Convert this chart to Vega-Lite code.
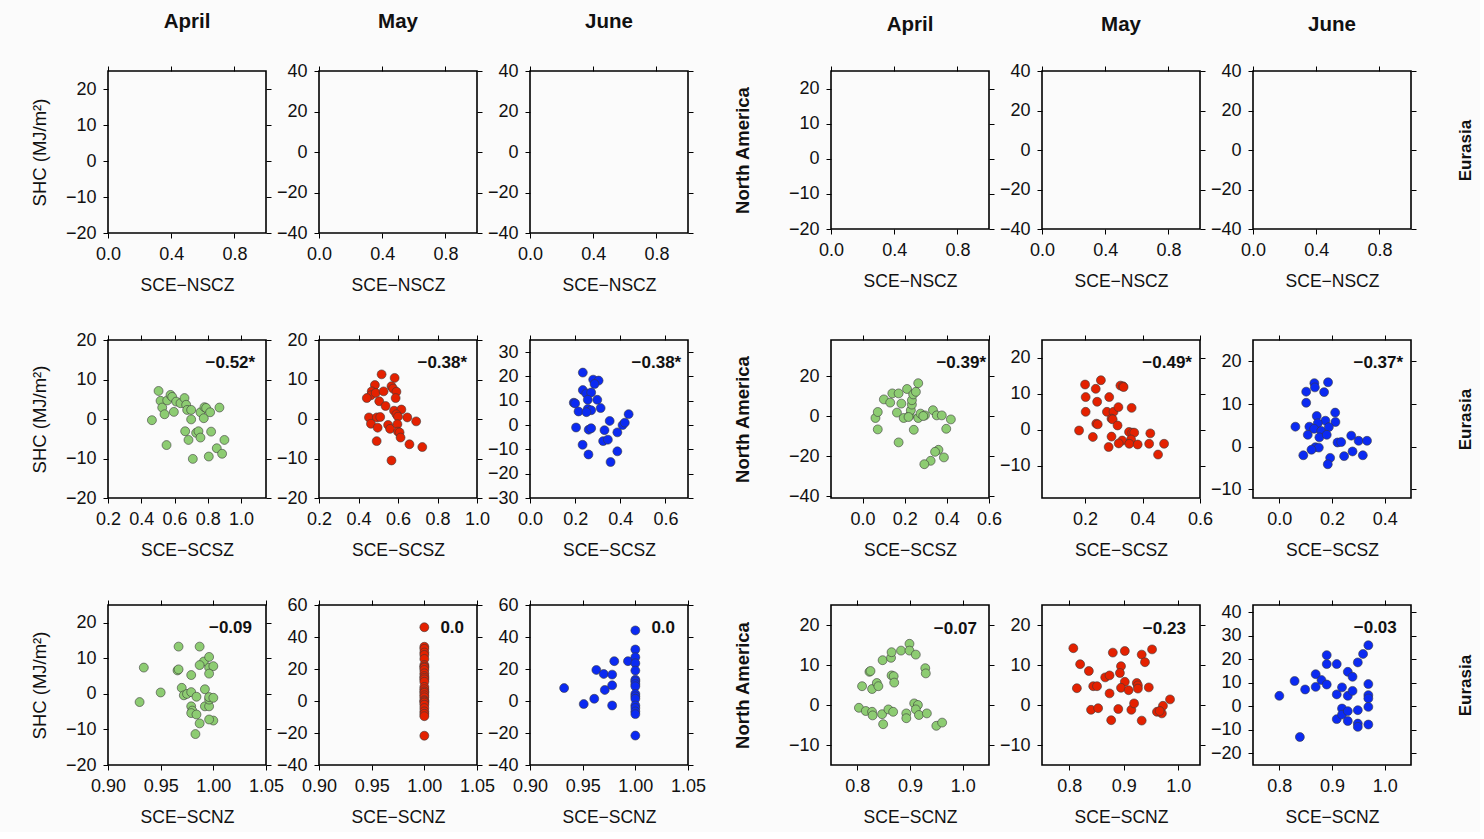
{
"$schema":"https://vega.github.io/schema/vega-lite/v6.json",
"background":"#fbfbfb",
"padding":{"left":29,"top":10,"right":5,"bottom":5},
"columns":7,
"spacing":{"row":107,"column":53},
"bounds":"flush",
"config":{
 "font":"Liberation Sans",
 "view":{"stroke":"black","strokeWidth":1.6},
 "axis":{"domain":false,"grid":false,"tickColor":"black","tickWidth":1,"tickSize":5,"labelFont":"Liberation Sans","labelFontSize":18,"labelColor":"#111","labelPadding":7,"labelFlush":false,"labelOverlap":false,"labelBound":false,"titleFont":"Liberation Sans","titleFontSize":17.5,"titleFontWeight":"normal","titleColor":"#111","titlePadding":13},
 "title":{"font":"Liberation Sans","fontSize":20.5,"fontWeight":"bold","color":"#111","frame":"group","anchor":"middle","baseline":"bottom"}
},
"datasets":{
"lab":[
{"p":"LA2","r":"−0.52*"},{"p":"LM2","r":"−0.38*"},{"p":"LJ2","r":"−0.38*"},
{"p":"LA3","r":"−0.09"},{"p":"LM3","r":"0.0"},{"p":"LJ3","r":"0.0"},
{"p":"RA2","r":"−0.39*"},{"p":"RM2","r":"−0.49*"},{"p":"RJ2","r":"−0.37*"},
{"p":"RA3","r":"−0.07"},{"p":"RM3","r":"−0.23"},{"p":"RJ3","r":"−0.03"}
],
"pts":[
{"p":"LA2","x":0.504,"y":7.1},{"p":"LA2","x":0.516,"y":4.6},{"p":"LA2","x":0.526,"y":2.9},{"p":"LA2","x":0.54,"y":1.2},{"p":"LA2","x":0.556,"y":4.7},{"p":"LA2","x":0.552,"y":-6.6},{"p":"LA2","x":0.576,"y":6.1},{"p":"LA2","x":0.586,"y":5.6},{"p":"LA2","x":0.596,"y":1.8},{"p":"LA2","x":0.61,"y":4.4},{"p":"LA2","x":0.636,"y":4.0},{"p":"LA2","x":0.66,"y":5.3},{"p":"LA2","x":0.67,"y":3.6},{"p":"LA2","x":0.676,"y":2.3},{"p":"LA2","x":0.70,"y":2.3},{"p":"LA2","x":0.70,"y":-0.1},{"p":"LA2","x":0.664,"y":-3.1},{"p":"LA2","x":0.684,"y":-5.3},{"p":"LA2","x":0.71,"y":-10.1},{"p":"LA2","x":0.73,"y":-3.5},{"p":"LA2","x":0.744,"y":-3.1},{"p":"LA2","x":0.756,"y":-4.7},{"p":"LA2","x":0.756,"y":1.7},{"p":"LA2","x":0.776,"y":0.2},{"p":"LA2","x":0.78,"y":3.0},{"p":"LA2","x":0.79,"y":2.8},{"p":"LA2","x":0.814,"y":1.7},{"p":"LA2","x":0.82,"y":-3.2},{"p":"LA2","x":0.806,"y":-9.5},{"p":"LA2","x":0.854,"y":-7.4},{"p":"LA2","x":0.87,"y":2.9},{"p":"LA2","x":0.886,"y":-8.8},{"p":"LA2","x":0.90,"y":-5.3},{"p":"LA2","x":0.464,"y":-0.3},
{"p":"LM2","x":0.517,"y":11.3},{"p":"LM2","x":0.583,"y":10.4},{"p":"LM2","x":0.483,"y":8.6},{"p":"LM2","x":0.467,"y":7.0},{"p":"LM2","x":0.463,"y":6.0},{"p":"LM2","x":0.487,"y":6.6},{"p":"LM2","x":0.442,"y":5.3},{"p":"LM2","x":0.527,"y":7.0},{"p":"LM2","x":0.567,"y":8.3},{"p":"LM2","x":0.575,"y":7.7},{"p":"LM2","x":0.592,"y":6.9},{"p":"LM2","x":0.588,"y":5.3},{"p":"LM2","x":0.505,"y":4.5},{"p":"LM2","x":0.537,"y":3.3},{"p":"LM2","x":0.58,"y":2.1},{"p":"LM2","x":0.617,"y":2.4},{"p":"LM2","x":0.592,"y":1.2},{"p":"LM2","x":0.6,"y":0.6},{"p":"LM2","x":0.647,"y":0.4},{"p":"LM2","x":0.692,"y":-0.6},{"p":"LM2","x":0.453,"y":0.4},{"p":"LM2","x":0.493,"y":0.4},{"p":"LM2","x":0.51,"y":0.5},{"p":"LM2","x":0.463,"y":-1.2},{"p":"LM2","x":0.497,"y":-2.2},{"p":"LM2","x":0.55,"y":-1.5},{"p":"LM2","x":0.56,"y":-2.5},{"p":"LM2","x":0.597,"y":-1.3},{"p":"LM2","x":0.6,"y":-3.2},{"p":"LM2","x":0.608,"y":-3.4},{"p":"LM2","x":0.613,"y":-4.7},{"p":"LM2","x":0.492,"y":-5.6},{"p":"LM2","x":0.658,"y":-6.4},{"p":"LM2","x":0.723,"y":-7.1},{"p":"LM2","x":0.567,"y":-10.5},
{"p":"LJ2","x":0.234,"y":21.6},{"p":"LJ2","x":0.28,"y":18.7},{"p":"LJ2","x":0.304,"y":18.3},{"p":"LJ2","x":0.286,"y":16.9},{"p":"LJ2","x":0.234,"y":14.4},{"p":"LJ2","x":0.249,"y":13.0},{"p":"LJ2","x":0.271,"y":13.4},{"p":"LJ2","x":0.194,"y":9.2},{"p":"LJ2","x":0.2,"y":8.9},{"p":"LJ2","x":0.256,"y":10.4},{"p":"LJ2","x":0.298,"y":10.4},{"p":"LJ2","x":0.215,"y":5.6},{"p":"LJ2","x":0.256,"y":6.6},{"p":"LJ2","x":0.271,"y":6.1},{"p":"LJ2","x":0.313,"y":7.0},{"p":"LJ2","x":0.25,"y":5.3},{"p":"LJ2","x":0.437,"y":4.5},{"p":"LJ2","x":0.204,"y":-1.0},{"p":"LJ2","x":0.26,"y":-1.9},{"p":"LJ2","x":0.271,"y":-1.3},{"p":"LJ2","x":0.353,"y":1.7},{"p":"LJ2","x":0.33,"y":-2.1},{"p":"LJ2","x":0.324,"y":-6.6},{"p":"LJ2","x":0.345,"y":-6.0},{"p":"LJ2","x":0.387,"y":-3.0},{"p":"LJ2","x":0.41,"y":0.0},{"p":"LJ2","x":0.42,"y":1.0},{"p":"LJ2","x":0.233,"y":-8.1},{"p":"LJ2","x":0.387,"y":-10.8},{"p":"LJ2","x":0.259,"y":-12.1},{"p":"LJ2","x":0.357,"y":-15.2},
{"p":"LA3","x":0.93,"y":-2.3},{"p":"LA3","x":0.934,"y":7.4},{"p":"LA3","x":0.95,"y":0.4},{"p":"LA3","x":0.967,"y":13.3},{"p":"LA3","x":0.987,"y":13.3},{"p":"LA3","x":0.966,"y":6.6},{"p":"LA3","x":0.967,"y":6.9},{"p":"LA3","x":0.979,"y":5.3},{"p":"LA3","x":0.97,"y":1.7},{"p":"LA3","x":0.972,"y":-0.4},{"p":"LA3","x":0.975,"y":0.0},{"p":"LA3","x":0.979,"y":0.5},{"p":"LA3","x":0.984,"y":-0.8},{"p":"LA3","x":0.991,"y":9.1},{"p":"LA3","x":0.987,"y":8.1},{"p":"LA3","x":0.996,"y":10.4},{"p":"LA3","x":0.996,"y":7.4},{"p":"LA3","x":1.0,"y":7.8},{"p":"LA3","x":0.996,"y":5.7},{"p":"LA3","x":0.992,"y":1.3},{"p":"LA3","x":0.979,"y":-3.5},{"p":"LA3","x":0.98,"y":-4.7},{"p":"LA3","x":0.979,"y":-5.4},{"p":"LA3","x":0.984,"y":-5.8},{"p":"LA3","x":0.992,"y":-3.5},{"p":"LA3","x":0.996,"y":-3.5},{"p":"LA3","x":0.996,"y":-1.6},{"p":"LA3","x":0.996,"y":-0.9},{"p":"LA3","x":1.0,"y":-1.1},{"p":"LA3","x":1.0,"y":-7.5},{"p":"LA3","x":0.996,"y":-7.2},{"p":"LA3","x":0.987,"y":-8.3},{"p":"LA3","x":0.983,"y":-11.3},
{"p":"LM3","x":1.0,"y":46.1},{"p":"LM3","x":1.0,"y":33.9},{"p":"LM3","x":1.0,"y":32.6},{"p":"LM3","x":1.0,"y":30.3},{"p":"LM3","x":1.0,"y":28.8},{"p":"LM3","x":1.0,"y":26.3},{"p":"LM3","x":1.0,"y":22.5},{"p":"LM3","x":1.0,"y":21.5},{"p":"LM3","x":1.0,"y":20.8},{"p":"LM3","x":1.0,"y":19.4},{"p":"LM3","x":1.0,"y":17.3},{"p":"LM3","x":1.0,"y":15.6},{"p":"LM3","x":1.0,"y":14.5},{"p":"LM3","x":1.0,"y":13.5},{"p":"LM3","x":1.0,"y":12.0},{"p":"LM3","x":1.0,"y":8.8},{"p":"LM3","x":1.0,"y":7.4},{"p":"LM3","x":1.0,"y":6.0},{"p":"LM3","x":1.0,"y":5.1},{"p":"LM3","x":1.0,"y":3.6},{"p":"LM3","x":1.0,"y":2.3},{"p":"LM3","x":1.0,"y":0.5},{"p":"LM3","x":1.0,"y":-0.2},{"p":"LM3","x":1.0,"y":-1.0},{"p":"LM3","x":1.0,"y":-2.3},{"p":"LM3","x":1.0,"y":-4.4},{"p":"LM3","x":1.0,"y":-6.5},{"p":"LM3","x":1.0,"y":-8.0},{"p":"LM3","x":1.0,"y":-9.5},{"p":"LM3","x":1.0,"y":-21.7},
{"p":"LJ3","x":0.9324,"y":8.1},{"p":"LJ3","x":0.951,"y":-1.9},{"p":"LJ3","x":0.961,"y":1.4},{"p":"LJ3","x":0.963,"y":19.4},{"p":"LJ3","x":0.97,"y":16.9},{"p":"LJ3","x":0.971,"y":6.9},{"p":"LJ3","x":0.978,"y":16.5},{"p":"LJ3","x":0.978,"y":9.8},{"p":"LJ3","x":0.978,"y":-2.8},{"p":"LJ3","x":0.98,"y":24.9},{"p":"LJ3","x":0.993,"y":24.9},{"p":"LJ3","x":1.0,"y":44.1},{"p":"LJ3","x":1.0,"y":32.2},{"p":"LJ3","x":1.0,"y":27.4},{"p":"LJ3","x":1.0,"y":23.6},{"p":"LJ3","x":1.0,"y":19.0},{"p":"LJ3","x":1.0,"y":13.3},{"p":"LJ3","x":1.0,"y":12.3},{"p":"LJ3","x":1.0,"y":10.6},{"p":"LJ3","x":1.0,"y":9.2},{"p":"LJ3","x":1.0,"y":4.4},{"p":"LJ3","x":1.0,"y":2.9},{"p":"LJ3","x":1.0,"y":1.4},{"p":"LJ3","x":1.0,"y":-2.8},{"p":"LJ3","x":1.0,"y":-4.4},{"p":"LJ3","x":1.0,"y":-6.5},{"p":"LJ3","x":1.0,"y":-8.2},{"p":"LJ3","x":1.0,"y":-21.6},
{"p":"RA2","x":0.061,"y":-1.0},{"p":"RA2","x":0.072,"y":2.0},{"p":"RA2","x":0.072,"y":-6.7},{"p":"RA2","x":0.101,"y":8.3},{"p":"RA2","x":0.131,"y":6.7},{"p":"RA2","x":0.141,"y":11.3},{"p":"RA2","x":0.171,"y":11.3},{"p":"RA2","x":0.184,"y":6.2},{"p":"RA2","x":0.163,"y":1.7},{"p":"RA2","x":0.171,"y":-13.2},{"p":"RA2","x":0.195,"y":-1.0},{"p":"RA2","x":0.211,"y":13.5},{"p":"RA2","x":0.224,"y":0.3},{"p":"RA2","x":0.229,"y":2.9},{"p":"RA2","x":0.234,"y":5.7},{"p":"RA2","x":0.234,"y":7.9},{"p":"RA2","x":0.24,"y":10.8},{"p":"RA2","x":0.253,"y":12.1},{"p":"RA2","x":0.264,"y":16.4},{"p":"RA2","x":0.264,"y":-1.0},{"p":"RA2","x":0.243,"y":-6.9},{"p":"RA2","x":0.275,"y":1.2},{"p":"RA2","x":0.296,"y":0.3},{"p":"RA2","x":0.288,"y":0.0},{"p":"RA2","x":0.334,"y":2.9},{"p":"RA2","x":0.352,"y":0.3},{"p":"RA2","x":0.376,"y":0.3},{"p":"RA2","x":0.419,"y":-1.7},{"p":"RA2","x":0.397,"y":-6.4},{"p":"RA2","x":0.36,"y":-16.9},{"p":"RA2","x":0.344,"y":-17.9},{"p":"RA2","x":0.386,"y":-20.7},{"p":"RA2","x":0.323,"y":-22.4},{"p":"RA2","x":0.293,"y":-24.1},{"p":"RA2","x":0.218,"y":-0.5},
{"p":"RM2","x":0.2,"y":12.6},{"p":"RM2","x":0.255,"y":13.8},{"p":"RM2","x":0.237,"y":11.4},{"p":"RM2","x":0.202,"y":9.1},{"p":"RM2","x":0.242,"y":7.8},{"p":"RM2","x":0.284,"y":9.1},{"p":"RM2","x":0.323,"y":12.3},{"p":"RM2","x":0.332,"y":12.1},{"p":"RM2","x":0.334,"y":11.9},{"p":"RM2","x":0.202,"y":5.0},{"p":"RM2","x":0.276,"y":5.0},{"p":"RM2","x":0.299,"y":5.0},{"p":"RM2","x":0.316,"y":6.3},{"p":"RM2","x":0.362,"y":6.1},{"p":"RM2","x":0.292,"y":3.1},{"p":"RM2","x":0.296,"y":2.9},{"p":"RM2","x":0.239,"y":1.7},{"p":"RM2","x":0.244,"y":1.5},{"p":"RM2","x":0.313,"y":1.2},{"p":"RM2","x":0.179,"y":-0.2},{"p":"RM2","x":0.227,"y":-2.0},{"p":"RM2","x":0.292,"y":-1.9},{"p":"RM2","x":0.329,"y":-3.0},{"p":"RM2","x":0.317,"y":-3.8},{"p":"RM2","x":0.353,"y":-0.6},{"p":"RM2","x":0.364,"y":-0.8},{"p":"RM2","x":0.371,"y":-0.8},{"p":"RM2","x":0.36,"y":-2.7},{"p":"RM2","x":0.354,"y":-3.9},{"p":"RM2","x":0.383,"y":-4.1},{"p":"RM2","x":0.427,"y":-1.0},{"p":"RM2","x":0.423,"y":-3.9},{"p":"RM2","x":0.475,"y":-3.9},{"p":"RM2","x":0.454,"y":-6.9},{"p":"RM2","x":0.282,"y":-4.8},
{"p":"RJ2","x":0.185,"y":15.1},{"p":"RJ2","x":0.133,"y":14.9},{"p":"RJ2","x":0.135,"y":13.9},{"p":"RJ2","x":0.102,"y":12.9},{"p":"RJ2","x":0.17,"y":12.8},{"p":"RJ2","x":0.102,"y":10.3},{"p":"RJ2","x":0.212,"y":8.0},{"p":"RJ2","x":0.142,"y":7.2},{"p":"RJ2","x":0.175,"y":6.1},{"p":"RJ2","x":0.213,"y":5.8},{"p":"RJ2","x":0.061,"y":4.7},{"p":"RJ2","x":0.114,"y":4.7},{"p":"RJ2","x":0.146,"y":5.5},{"p":"RJ2","x":0.132,"y":4.2},{"p":"RJ2","x":0.159,"y":3.7},{"p":"RJ2","x":0.188,"y":4.6},{"p":"RJ2","x":0.108,"y":2.8},{"p":"RJ2","x":0.152,"y":2.2},{"p":"RJ2","x":0.18,"y":2.8},{"p":"RJ2","x":0.273,"y":2.6},{"p":"RJ2","x":0.221,"y":1.0},{"p":"RJ2","x":0.235,"y":1.1},{"p":"RJ2","x":0.301,"y":1.4},{"p":"RJ2","x":0.333,"y":1.4},{"p":"RJ2","x":0.137,"y":-0.1},{"p":"RJ2","x":0.15,"y":-0.2},{"p":"RJ2","x":0.122,"y":-0.7},{"p":"RJ2","x":0.091,"y":-2.0},{"p":"RJ2","x":0.278,"y":-1.1},{"p":"RJ2","x":0.246,"y":-2.2},{"p":"RJ2","x":0.317,"y":-2.0},{"p":"RJ2","x":0.193,"y":-2.6},{"p":"RJ2","x":0.184,"y":-4.1},
{"p":"RA3","x":0.809,"y":4.7},{"p":"RA3","x":0.823,"y":8.3},{"p":"RA3","x":0.825,"y":8.5},{"p":"RA3","x":0.828,"y":4.0},{"p":"RA3","x":0.837,"y":5.5},{"p":"RA3","x":0.84,"y":4.7},{"p":"RA3","x":0.848,"y":11.2},{"p":"RA3","x":0.864,"y":11.8},{"p":"RA3","x":0.865,"y":13.2},{"p":"RA3","x":0.883,"y":13.6},{"p":"RA3","x":0.899,"y":15.3},{"p":"RA3","x":0.899,"y":13.6},{"p":"RA3","x":0.911,"y":12.6},{"p":"RA3","x":0.865,"y":7.4},{"p":"RA3","x":0.869,"y":7.2},{"p":"RA3","x":0.87,"y":5.6},{"p":"RA3","x":0.929,"y":9.2},{"p":"RA3","x":0.93,"y":7.9},{"p":"RA3","x":0.803,"y":-0.7},{"p":"RA3","x":0.816,"y":-1.5},{"p":"RA3","x":0.828,"y":-1.7},{"p":"RA3","x":0.829,"y":-2.6},{"p":"RA3","x":0.847,"y":-2.3},{"p":"RA3","x":0.849,"y":-4.8},{"p":"RA3","x":0.859,"y":-1.1},{"p":"RA3","x":0.868,"y":-1.7},{"p":"RA3","x":0.893,"y":-2.1},{"p":"RA3","x":0.893,"y":-3.3},{"p":"RA3","x":0.908,"y":0.4},{"p":"RA3","x":0.915,"y":0.0},{"p":"RA3","x":0.911,"y":-1.1},{"p":"RA3","x":0.917,"y":-2.5},{"p":"RA3","x":0.932,"y":-2.1},{"p":"RA3","x":0.95,"y":-5.2},{"p":"RA3","x":0.961,"y":-4.4},
{"p":"RM3","x":0.8075,"y":14.2},{"p":"RM3","x":0.82,"y":10.2},{"p":"RM3","x":0.836,"y":8.5},{"p":"RM3","x":0.814,"y":4.2},{"p":"RM3","x":0.844,"y":4.7},{"p":"RM3","x":0.851,"y":4.7},{"p":"RM3","x":0.84,"y":-1.2},{"p":"RM3","x":0.853,"y":-0.8},{"p":"RM3","x":0.866,"y":6.9},{"p":"RM3","x":0.874,"y":7.4},{"p":"RM3","x":0.88,"y":13.1},{"p":"RM3","x":0.874,"y":2.9},{"p":"RM3","x":0.877,"y":-3.8},{"p":"RM3","x":0.89,"y":-1.0},{"p":"RM3","x":0.902,"y":13.5},{"p":"RM3","x":0.895,"y":9.7},{"p":"RM3","x":0.893,"y":8.0},{"p":"RM3","x":0.902,"y":5.8},{"p":"RM3","x":0.895,"y":4.3},{"p":"RM3","x":0.909,"y":3.7},{"p":"RM3","x":0.914,"y":-1.2},{"p":"RM3","x":0.919,"y":0.4},{"p":"RM3","x":0.924,"y":5.5},{"p":"RM3","x":0.926,"y":4.9},{"p":"RM3","x":0.926,"y":4.1},{"p":"RM3","x":0.933,"y":12.6},{"p":"RM3","x":0.939,"y":10.7},{"p":"RM3","x":0.946,"y":4.4},{"p":"RM3","x":0.933,"y":-3.9},{"p":"RM3","x":0.952,"y":13.9},{"p":"RM3","x":0.961,"y":-1.7},{"p":"RM3","x":0.97,"y":-2.1},{"p":"RM3","x":0.972,"y":-0.2},{"p":"RM3","x":0.985,"y":1.4},{"p":"RM3","x":0.966,"y":-1.5},
{"p":"RJ3","x":0.8,"y":4.4},{"p":"RJ3","x":0.829,"y":10.7},{"p":"RJ3","x":0.849,"y":7.1},{"p":"RJ3","x":0.839,"y":-13.1},{"p":"RJ3","x":0.869,"y":13.6},{"p":"RJ3","x":0.869,"y":8.2},{"p":"RJ3","x":0.88,"y":11.1},{"p":"RJ3","x":0.89,"y":9.2},{"p":"RJ3","x":0.89,"y":21.7},{"p":"RJ3","x":0.89,"y":17.9},{"p":"RJ3","x":0.909,"y":17.9},{"p":"RJ3","x":0.909,"y":5.0},{"p":"RJ3","x":0.909,"y":-5.5},{"p":"RJ3","x":0.919,"y":8.0},{"p":"RJ3","x":0.919,"y":-1.0},{"p":"RJ3","x":0.919,"y":-3.6},{"p":"RJ3","x":0.93,"y":14.6},{"p":"RJ3","x":0.93,"y":4.4},{"p":"RJ3","x":0.93,"y":-2.1},{"p":"RJ3","x":0.93,"y":-6.3},{"p":"RJ3","x":0.939,"y":12.5},{"p":"RJ3","x":0.939,"y":6.5},{"p":"RJ3","x":0.949,"y":18.6},{"p":"RJ3","x":0.949,"y":-1.7},{"p":"RJ3","x":0.949,"y":-7.4},{"p":"RJ3","x":0.949,"y":-8.8},{"p":"RJ3","x":0.959,"y":22.2},{"p":"RJ3","x":0.969,"y":25.9},{"p":"RJ3","x":0.969,"y":9.4},{"p":"RJ3","x":0.969,"y":4.7},{"p":"RJ3","x":0.969,"y":3.3},{"p":"RJ3","x":0.969,"y":-0.3},{"p":"RJ3","x":0.969,"y":-7.8}
]},
"concat":[
{"width":158,"height":162,"title":{"text":"April","offset":33},"layer":[
 {"data":{"name":"pts"},"transform":[{"filter":"datum.p==='LA1'"}],"mark":{"type":"point","filled":true,"size":80,"color":"#8dcc72"},
  "encoding":{"x":{"field":"x","type":"quantitative","scale":{"domain":[0,1],"nice":false,"zero":false},"axis":{"values":[0,0.4,0.8],"format":".1f","title":"SCE−NSCZ"}},
   "y":{"field":"y","type":"quantitative","scale":{"domain":[-20,25],"nice":false,"zero":false},"axis":{"values":[-20,-10,0,10,20],"format":"d","title":"SHC (MJ/m²)","titleFontSize":18.5,"titlePadding":16}}}},
 {"data":{"name":"pts"},"transform":[{"filter":"datum.p==='LA1'"}],"mark":{"type":"point","opacity":0},
  "encoding":{"x":{"field":"x","type":"quantitative","scale":{"domain":[0,1],"nice":false,"zero":false},"axis":{"orient":"top","values":[0,0.4,0.8],"labels":false,"title":null}},
   "y":{"field":"y","type":"quantitative","scale":{"domain":[-20,25],"nice":false,"zero":false},"axis":{"orient":"right","values":[-20,-10,0,10,20],"labels":false,"title":null}}}}
 ],"resolve":{"axis":{"x":"independent","y":"independent"}}},
{"width":158,"height":162,"title":{"text":"May","offset":30},"layer":[
 {"data":{"name":"pts"},"transform":[{"filter":"datum.p==='LM1'"}],"mark":{"type":"point","filled":true,"size":80,"color":"#e42100"},
  "encoding":{"x":{"field":"x","type":"quantitative","scale":{"domain":[0,1],"nice":false,"zero":false},"axis":{"values":[0,0.4,0.8],"format":".1f","title":"SCE−NSCZ"}},
   "y":{"field":"y","type":"quantitative","scale":{"domain":[-40,40],"nice":false,"zero":false},"axis":{"values":[-40,-20,0,20,40],"format":"d","title":null}}}},
 {"data":{"name":"pts"},"transform":[{"filter":"datum.p==='LM1'"}],"mark":{"type":"point","opacity":0},
  "encoding":{"x":{"field":"x","type":"quantitative","scale":{"domain":[0,1],"nice":false,"zero":false},"axis":{"orient":"top","values":[0,0.4,0.8],"labels":false,"title":null}},
   "y":{"field":"y","type":"quantitative","scale":{"domain":[-40,40],"nice":false,"zero":false},"axis":{"orient":"right","values":[-40,-20,0,20,40],"labels":false,"title":null}}}}
 ],"resolve":{"axis":{"x":"independent","y":"independent"}}},
{"width":158,"height":162,"title":{"text":"June","offset":30},"layer":[
 {"data":{"name":"pts"},"transform":[{"filter":"datum.p==='LJ1'"}],"mark":{"type":"point","filled":true,"size":80,"color":"#0b2af2"},
  "encoding":{"x":{"field":"x","type":"quantitative","scale":{"domain":[0,1],"nice":false,"zero":false},"axis":{"values":[0,0.4,0.8],"format":".1f","title":"SCE−NSCZ"}},
   "y":{"field":"y","type":"quantitative","scale":{"domain":[-40,40],"nice":false,"zero":false},"axis":{"values":[-40,-20,0,20,40],"format":"d","title":null}}}},
 {"data":{"name":"pts"},"transform":[{"filter":"datum.p==='LJ1'"}],"mark":{"type":"point","opacity":0},
  "encoding":{"x":{"field":"x","type":"quantitative","scale":{"domain":[0,1],"nice":false,"zero":false},"axis":{"orient":"top","values":[0,0.4,0.8],"labels":false,"title":null}},
   "y":{"field":"y","type":"quantitative","scale":{"domain":[-40,40],"nice":false,"zero":false},"axis":{"orient":"right","values":[-40,-20,0,20,40],"labels":false,"title":null}}}}
 ],"resolve":{"axis":{"x":"independent","y":"independent"}}},
{"width":37,"height":20,"data":{"values":[{"a":1}]},"mark":{"type":"text","text":""},"encoding":{},"view":{"stroke":null}},
{"width":158,"height":158,"title":{"text":"April","offset":30},"layer":[
 {"data":{"name":"pts"},"transform":[{"filter":"datum.p==='RA1'"}],"mark":{"type":"point","filled":true,"size":80,"color":"#8dcc72"},
  "encoding":{"x":{"field":"x","type":"quantitative","scale":{"domain":[0,1],"nice":false,"zero":false},"axis":{"values":[0,0.4,0.8],"format":".1f","title":"SCE−NSCZ"}},
   "y":{"field":"y","type":"quantitative","scale":{"domain":[-20,25],"nice":false,"zero":false},"axis":{"values":[-20,-10,0,10,20],"format":"d","title":"North America","titleFontWeight":"bold","titleFontSize":18.5,"titlePadding":36}}}},
 {"data":{"name":"pts"},"transform":[{"filter":"datum.p==='RA1'"}],"mark":{"type":"point","opacity":0},
  "encoding":{"x":{"field":"x","type":"quantitative","scale":{"domain":[0,1],"nice":false,"zero":false},"axis":{"orient":"top","values":[0,0.4,0.8],"labels":false,"title":null}},
   "y":{"field":"y","type":"quantitative","scale":{"domain":[-20,25],"nice":false,"zero":false},"axis":{"orient":"right","values":[-20,-10,0,10,20],"labels":false,"title":null}}}}
 ],"resolve":{"axis":{"x":"independent","y":"independent"}}},
{"width":158,"height":158,"title":{"text":"May","offset":27},"layer":[
 {"data":{"name":"pts"},"transform":[{"filter":"datum.p==='RM1'"}],"mark":{"type":"point","filled":true,"size":80,"color":"#e42100"},
  "encoding":{"x":{"field":"x","type":"quantitative","scale":{"domain":[0,1],"nice":false,"zero":false},"axis":{"values":[0,0.4,0.8],"format":".1f","title":"SCE−NSCZ"}},
   "y":{"field":"y","type":"quantitative","scale":{"domain":[-40,40],"nice":false,"zero":false},"axis":{"values":[-40,-20,0,20,40],"format":"d","title":null}}}},
 {"data":{"name":"pts"},"transform":[{"filter":"datum.p==='RM1'"}],"mark":{"type":"point","opacity":0},
  "encoding":{"x":{"field":"x","type":"quantitative","scale":{"domain":[0,1],"nice":false,"zero":false},"axis":{"orient":"top","values":[0,0.4,0.8],"labels":false,"title":null}},
   "y":{"field":"y","type":"quantitative","scale":{"domain":[-40,40],"nice":false,"zero":false},"axis":{"orient":"right","values":[-40,-20,0,20,40],"labels":false,"title":null}}}}
 ],"resolve":{"axis":{"x":"independent","y":"independent"}}},
{"width":158,"height":158,"title":{"text":"June","offset":27},"layer":[
 {"data":{"name":"pts"},"transform":[{"filter":"datum.p==='RJ1'"}],"mark":{"type":"point","filled":true,"size":80,"color":"#0b2af2"},
  "encoding":{"x":{"field":"x","type":"quantitative","scale":{"domain":[0,1],"nice":false,"zero":false},"axis":{"values":[0,0.4,0.8],"format":".1f","title":"SCE−NSCZ"}},
   "y":{"field":"y","type":"quantitative","scale":{"domain":[-40,40],"nice":false,"zero":false},"axis":{"values":[-40,-20,0,20,40],"format":"d","title":null}}}},
 {"data":{"name":"pts"},"transform":[{"filter":"datum.p==='RJ1'"}],"mark":{"type":"point","opacity":0},
  "encoding":{"x":{"field":"x","type":"quantitative","scale":{"domain":[0,1],"nice":false,"zero":false},"axis":{"orient":"top","values":[0,0.4,0.8],"labels":false,"title":null}},
   "y":{"field":"y","type":"quantitative","scale":{"domain":[-40,40],"nice":false,"zero":false},"axis":{"orient":"right","values":[-40,-20,0,20,40],"labels":false,"title":"Eurasia","titleFontWeight":"bold","titleFontSize":17,"titleAngle":270,"titleBaseline":"top","titlePadding":41}}}}
 ],"resolve":{"axis":{"x":"independent","y":"independent"}}},

{"width":158,"height":158,"layer":[
 {"data":{"name":"pts"},"transform":[{"filter":"datum.p==='LA2'"}],"mark":{"type":"point","filled":true,"size":80,"color":"#8dcc72","stroke":"#3a3a3a","strokeWidth":0.6,"opacity":1},
  "encoding":{"x":{"field":"x","type":"quantitative","scale":{"domain":[0.2,1.15],"nice":false,"zero":false},"axis":{"values":[0.2,0.4,0.6,0.8,1.0],"format":".1f","title":"SCE−SCSZ"}},
   "y":{"field":"y","type":"quantitative","scale":{"domain":[-20,20],"nice":false,"zero":false},"axis":{"values":[-20,-10,0,10,20],"format":"d","title":"SHC (MJ/m²)","titleFontSize":18.5,"titlePadding":16}}}},
 {"data":{"name":"pts"},"transform":[{"filter":"datum.p==='LA2'"}],"mark":{"type":"point","opacity":0},
  "encoding":{"x":{"field":"x","type":"quantitative","scale":{"domain":[0.2,1.15],"nice":false,"zero":false},"axis":{"orient":"top","values":[0.2,0.4,0.6,0.8,1.0],"labels":false,"title":null}},
   "y":{"field":"y","type":"quantitative","scale":{"domain":[-20,20],"nice":false,"zero":false},"axis":{"orient":"right","values":[-20,-10,0,10,20],"labels":false,"title":null}}}},
 {"data":{"name":"lab"},"transform":[{"filter":"datum.p==='LA2'"}],"mark":{"type":"text","align":"right","baseline":"middle","fontSize":17,"fontWeight":"bold","color":"#111"},
  "encoding":{"x":{"datum":1.085,"type":"quantitative","scale":{"domain":[0.2,1.15],"nice":false,"zero":false},"axis":null},"y":{"datum":14.2,"type":"quantitative","scale":{"domain":[-20,20],"nice":false,"zero":false},"axis":null},"text":{"field":"r"}}}
 ],"resolve":{"axis":{"x":"independent","y":"independent"}}},
{"width":158,"height":158,"layer":[
 {"data":{"name":"pts"},"transform":[{"filter":"datum.p==='LM2'"}],"mark":{"type":"point","filled":true,"size":80,"color":"#e42100","stroke":"#3a3a3a","strokeWidth":0.6,"opacity":1},
  "encoding":{"x":{"field":"x","type":"quantitative","scale":{"domain":[0.2,1.0],"nice":false,"zero":false},"axis":{"values":[0.2,0.4,0.6,0.8,1.0],"format":".1f","title":"SCE−SCSZ"}},
   "y":{"field":"y","type":"quantitative","scale":{"domain":[-20,20],"nice":false,"zero":false},"axis":{"values":[-20,-10,0,10,20],"format":"d","title":null}}}},
 {"data":{"name":"pts"},"transform":[{"filter":"datum.p==='LM2'"}],"mark":{"type":"point","opacity":0},
  "encoding":{"x":{"field":"x","type":"quantitative","scale":{"domain":[0.2,1.0],"nice":false,"zero":false},"axis":{"orient":"top","values":[0.2,0.4,0.6,0.8,1.0],"labels":false,"title":null}},
   "y":{"field":"y","type":"quantitative","scale":{"domain":[-20,20],"nice":false,"zero":false},"axis":{"orient":"right","values":[-20,-10,0,10,20],"labels":false,"title":null}}}},
 {"data":{"name":"lab"},"transform":[{"filter":"datum.p==='LM2'"}],"mark":{"type":"text","align":"right","baseline":"middle","fontSize":17,"fontWeight":"bold","color":"#111"},
  "encoding":{"x":{"datum":0.95,"type":"quantitative","scale":{"domain":[0.2,1.0],"nice":false,"zero":false},"axis":null},"y":{"datum":14.2,"type":"quantitative","scale":{"domain":[-20,20],"nice":false,"zero":false},"axis":null},"text":{"field":"r"}}}
 ],"resolve":{"axis":{"x":"independent","y":"independent"}}},
{"width":158,"height":158,"layer":[
 {"data":{"name":"pts"},"transform":[{"filter":"datum.p==='LJ2'"}],"mark":{"type":"point","filled":true,"size":80,"color":"#0b2af2","stroke":"#3a3a3a","strokeWidth":0.6,"opacity":1},
  "encoding":{"x":{"field":"x","type":"quantitative","scale":{"domain":[0,0.7],"nice":false,"zero":false},"axis":{"values":[0,0.2,0.4,0.6],"format":".1f","title":"SCE−SCSZ"}},
   "y":{"field":"y","type":"quantitative","scale":{"domain":[-30,35],"nice":false,"zero":false},"axis":{"values":[-30,-20,-10,0,10,20,30],"format":"d","title":null}}}},
 {"data":{"name":"pts"},"transform":[{"filter":"datum.p==='LJ2'"}],"mark":{"type":"point","opacity":0},
  "encoding":{"x":{"field":"x","type":"quantitative","scale":{"domain":[0,0.7],"nice":false,"zero":false},"axis":{"orient":"top","values":[0,0.2,0.4,0.6],"labels":false,"title":null}},
   "y":{"field":"y","type":"quantitative","scale":{"domain":[-30,35],"nice":false,"zero":false},"axis":{"orient":"right","values":[-30,-20,-10,0,10,20,30],"labels":false,"title":null}}}},
 {"data":{"name":"lab"},"transform":[{"filter":"datum.p==='LJ2'"}],"mark":{"type":"text","align":"right","baseline":"middle","fontSize":17,"fontWeight":"bold","color":"#111"},
  "encoding":{"x":{"datum":0.67,"type":"quantitative","scale":{"domain":[0,0.7],"nice":false,"zero":false},"axis":null},"y":{"datum":25.5,"type":"quantitative","scale":{"domain":[-30,35],"nice":false,"zero":false},"axis":null},"text":{"field":"r"}}}
 ],"resolve":{"axis":{"x":"independent","y":"independent"}}},
{"width":37,"height":20,"data":{"values":[{"a":1}]},"mark":{"type":"text","text":""},"encoding":{},"view":{"stroke":null}},
{"width":158,"height":158,"layer":[
 {"data":{"name":"pts"},"transform":[{"filter":"datum.p==='RA2'"}],"mark":{"type":"point","filled":true,"size":80,"color":"#8dcc72","stroke":"#3a3a3a","strokeWidth":0.6,"opacity":1},
  "encoding":{"x":{"field":"x","type":"quantitative","scale":{"domain":[-0.15,0.6],"nice":false,"zero":false},"axis":{"values":[0,0.2,0.4,0.6],"format":".1f","title":"SCE−SCSZ"}},
   "y":{"field":"y","type":"quantitative","scale":{"domain":[-41,38],"nice":false,"zero":false},"axis":{"values":[-40,-20,0,20],"format":"d","title":"North America","titleFontWeight":"bold","titleFontSize":18.5,"titlePadding":36}}}},
 {"data":{"name":"pts"},"transform":[{"filter":"datum.p==='RA2'"}],"mark":{"type":"point","opacity":0},
  "encoding":{"x":{"field":"x","type":"quantitative","scale":{"domain":[-0.15,0.6],"nice":false,"zero":false},"axis":{"orient":"top","values":[0,0.2,0.4,0.6],"labels":false,"title":null}},
   "y":{"field":"y","type":"quantitative","scale":{"domain":[-41,38],"nice":false,"zero":false},"axis":{"orient":"right","values":[-40,-20,0,20],"labels":false,"title":null}}}},
 {"data":{"name":"lab"},"transform":[{"filter":"datum.p==='RA2'"}],"mark":{"type":"text","align":"right","baseline":"middle","fontSize":17,"fontWeight":"bold","color":"#111"},
  "encoding":{"x":{"datum":0.586,"type":"quantitative","scale":{"domain":[-0.15,0.6],"nice":false,"zero":false},"axis":null},"y":{"datum":26.5,"type":"quantitative","scale":{"domain":[-41,38],"nice":false,"zero":false},"axis":null},"text":{"field":"r"}}}
 ],"resolve":{"axis":{"x":"independent","y":"independent"}}},
{"width":158,"height":158,"layer":[
 {"data":{"name":"pts"},"transform":[{"filter":"datum.p==='RM2'"}],"mark":{"type":"point","filled":true,"size":80,"color":"#e42100","stroke":"#3a3a3a","strokeWidth":0.6,"opacity":1},
  "encoding":{"x":{"field":"x","type":"quantitative","scale":{"domain":[0.05,0.6],"nice":false,"zero":false},"axis":{"values":[0.2,0.4,0.6],"format":".1f","title":"SCE−SCSZ"}},
   "y":{"field":"y","type":"quantitative","scale":{"domain":[-19,25],"nice":false,"zero":false},"axis":{"values":[-10,0,10,20],"format":"d","title":null}}}},
 {"data":{"name":"pts"},"transform":[{"filter":"datum.p==='RM2'"}],"mark":{"type":"point","opacity":0},
  "encoding":{"x":{"field":"x","type":"quantitative","scale":{"domain":[0.05,0.6],"nice":false,"zero":false},"axis":{"orient":"top","values":[0.2,0.4,0.6],"labels":false,"title":null}},
   "y":{"field":"y","type":"quantitative","scale":{"domain":[-19,25],"nice":false,"zero":false},"axis":{"orient":"right","values":[-10,0,10,20],"labels":false,"title":null}}}},
 {"data":{"name":"lab"},"transform":[{"filter":"datum.p==='RM2'"}],"mark":{"type":"text","align":"right","baseline":"middle","fontSize":17,"fontWeight":"bold","color":"#111"},
  "encoding":{"x":{"datum":0.572,"type":"quantitative","scale":{"domain":[0.05,0.6],"nice":false,"zero":false},"axis":null},"y":{"datum":18.6,"type":"quantitative","scale":{"domain":[-19,25],"nice":false,"zero":false},"axis":null},"text":{"field":"r"}}}
 ],"resolve":{"axis":{"x":"independent","y":"independent"}}},
{"width":158,"height":158,"layer":[
 {"data":{"name":"pts"},"transform":[{"filter":"datum.p==='RJ2'"}],"mark":{"type":"point","filled":true,"size":80,"color":"#0b2af2","stroke":"#3a3a3a","strokeWidth":0.6,"opacity":1},
  "encoding":{"x":{"field":"x","type":"quantitative","scale":{"domain":[-0.1,0.5],"nice":false,"zero":false},"axis":{"values":[0,0.2,0.4],"format":".1f","title":"SCE−SCSZ"}},
   "y":{"field":"y","type":"quantitative","scale":{"domain":[-12,25],"nice":false,"zero":false},"axis":{"values":[-10,0,10,20],"format":"d","title":null}}}},
 {"data":{"name":"pts"},"transform":[{"filter":"datum.p==='RJ2'"}],"mark":{"type":"point","opacity":0},
  "encoding":{"x":{"field":"x","type":"quantitative","scale":{"domain":[-0.1,0.5],"nice":false,"zero":false},"axis":{"orient":"top","values":[0,0.2,0.4],"labels":false,"title":null}},
   "y":{"field":"y","type":"quantitative","scale":{"domain":[-12,25],"nice":false,"zero":false},"axis":{"orient":"right","values":[-10,0,10,20],"labels":false,"title":"Eurasia","titleFontWeight":"bold","titleFontSize":17,"titleAngle":270,"titleBaseline":"top","titlePadding":41}}}},
 {"data":{"name":"lab"},"transform":[{"filter":"datum.p==='RJ2'"}],"mark":{"type":"text","align":"right","baseline":"middle","fontSize":17,"fontWeight":"bold","color":"#111"},
  "encoding":{"x":{"datum":0.47,"type":"quantitative","scale":{"domain":[-0.1,0.5],"nice":false,"zero":false},"axis":null},"y":{"datum":19.6,"type":"quantitative","scale":{"domain":[-12,25],"nice":false,"zero":false},"axis":null},"text":{"field":"r"}}}
 ],"resolve":{"axis":{"x":"independent","y":"independent"}}},

{"width":158,"height":160,"layer":[
 {"data":{"name":"pts"},"transform":[{"filter":"datum.p==='LA3'"}],"mark":{"type":"point","filled":true,"size":80,"color":"#8dcc72","stroke":"#3a3a3a","strokeWidth":0.6,"opacity":1},
  "encoding":{"x":{"field":"x","type":"quantitative","scale":{"domain":[0.9,1.05],"nice":false,"zero":false},"axis":{"values":[0.9,0.95,1.0,1.05],"format":".2f","title":"SCE−SCNZ"}},
   "y":{"field":"y","type":"quantitative","scale":{"domain":[-20,25],"nice":false,"zero":false},"axis":{"values":[-20,-10,0,10,20],"format":"d","title":"SHC (MJ/m²)","titleFontSize":18.5,"titlePadding":16}}}},
 {"data":{"name":"pts"},"transform":[{"filter":"datum.p==='LA3'"}],"mark":{"type":"point","opacity":0},
  "encoding":{"x":{"field":"x","type":"quantitative","scale":{"domain":[0.9,1.05],"nice":false,"zero":false},"axis":{"orient":"top","values":[0.9,0.95,1.0,1.05],"labels":false,"title":null}},
   "y":{"field":"y","type":"quantitative","scale":{"domain":[-20,25],"nice":false,"zero":false},"axis":{"orient":"right","values":[-20,-10,0,10,20],"labels":false,"title":null}}}},
 {"data":{"name":"lab"},"transform":[{"filter":"datum.p==='LA3'"}],"mark":{"type":"text","align":"right","baseline":"middle","fontSize":17,"fontWeight":"bold","color":"#111"},
  "encoding":{"x":{"datum":1.0367,"type":"quantitative","scale":{"domain":[0.9,1.05],"nice":false,"zero":false},"axis":null},"y":{"datum":18.5,"type":"quantitative","scale":{"domain":[-20,25],"nice":false,"zero":false},"axis":null},"text":{"field":"r"}}}
 ],"resolve":{"axis":{"x":"independent","y":"independent"}}},
{"width":158,"height":160,"layer":[
 {"data":{"name":"pts"},"transform":[{"filter":"datum.p==='LM3'"}],"mark":{"type":"point","filled":true,"size":80,"color":"#e42100","stroke":"#3a3a3a","strokeWidth":0.6,"opacity":1},
  "encoding":{"x":{"field":"x","type":"quantitative","scale":{"domain":[0.9,1.05],"nice":false,"zero":false},"axis":{"values":[0.9,0.95,1.0,1.05],"format":".2f","title":"SCE−SCNZ"}},
   "y":{"field":"y","type":"quantitative","scale":{"domain":[-40,60],"nice":false,"zero":false},"axis":{"values":[-40,-20,0,20,40,60],"format":"d","title":null}}}},
 {"data":{"name":"pts"},"transform":[{"filter":"datum.p==='LM3'"}],"mark":{"type":"point","opacity":0},
  "encoding":{"x":{"field":"x","type":"quantitative","scale":{"domain":[0.9,1.05],"nice":false,"zero":false},"axis":{"orient":"top","values":[0.9,0.95,1.0,1.05],"labels":false,"title":null}},
   "y":{"field":"y","type":"quantitative","scale":{"domain":[-40,60],"nice":false,"zero":false},"axis":{"orient":"right","values":[-40,-20,0,20,40,60],"labels":false,"title":null}}}},
 {"data":{"name":"lab"},"transform":[{"filter":"datum.p==='LM3'"}],"mark":{"type":"text","align":"right","baseline":"middle","fontSize":17,"fontWeight":"bold","color":"#111"},
  "encoding":{"x":{"datum":1.0377,"type":"quantitative","scale":{"domain":[0.9,1.05],"nice":false,"zero":false},"axis":null},"y":{"datum":45.5,"type":"quantitative","scale":{"domain":[-40,60],"nice":false,"zero":false},"axis":null},"text":{"field":"r"}}}
 ],"resolve":{"axis":{"x":"independent","y":"independent"}}},
{"width":158,"height":160,"layer":[
 {"data":{"name":"pts"},"transform":[{"filter":"datum.p==='LJ3'"}],"mark":{"type":"point","filled":true,"size":80,"color":"#0b2af2","stroke":"#3a3a3a","strokeWidth":0.6,"opacity":1},
  "encoding":{"x":{"field":"x","type":"quantitative","scale":{"domain":[0.9,1.05],"nice":false,"zero":false},"axis":{"values":[0.9,0.95,1.0,1.05],"format":".2f","title":"SCE−SCNZ"}},
   "y":{"field":"y","type":"quantitative","scale":{"domain":[-40,60],"nice":false,"zero":false},"axis":{"values":[-40,-20,0,20,40,60],"format":"d","title":null}}}},
 {"data":{"name":"pts"},"transform":[{"filter":"datum.p==='LJ3'"}],"mark":{"type":"point","opacity":0},
  "encoding":{"x":{"field":"x","type":"quantitative","scale":{"domain":[0.9,1.05],"nice":false,"zero":false},"axis":{"orient":"top","values":[0.9,0.95,1.0,1.05],"labels":false,"title":null}},
   "y":{"field":"y","type":"quantitative","scale":{"domain":[-40,60],"nice":false,"zero":false},"axis":{"orient":"right","values":[-40,-20,0,20,40,60],"labels":false,"title":null}}}},
 {"data":{"name":"lab"},"transform":[{"filter":"datum.p==='LJ3'"}],"mark":{"type":"text","align":"right","baseline":"middle","fontSize":17,"fontWeight":"bold","color":"#111"},
  "encoding":{"x":{"datum":1.0377,"type":"quantitative","scale":{"domain":[0.9,1.05],"nice":false,"zero":false},"axis":null},"y":{"datum":45.5,"type":"quantitative","scale":{"domain":[-40,60],"nice":false,"zero":false},"axis":null},"text":{"field":"r"}}}
 ],"resolve":{"axis":{"x":"independent","y":"independent"}}},
{"width":37,"height":20,"data":{"values":[{"a":1}]},"mark":{"type":"text","text":""},"encoding":{},"view":{"stroke":null}},
{"width":158,"height":160,"layer":[
 {"data":{"name":"pts"},"transform":[{"filter":"datum.p==='RA3'"}],"mark":{"type":"point","filled":true,"size":80,"color":"#8dcc72","stroke":"#3a3a3a","strokeWidth":0.6,"opacity":1},
  "encoding":{"x":{"field":"x","type":"quantitative","scale":{"domain":[0.75,1.05],"nice":false,"zero":false},"axis":{"values":[0.8,0.9,1.0],"format":".1f","title":"SCE−SCNZ"}},
   "y":{"field":"y","type":"quantitative","scale":{"domain":[-15,25],"nice":false,"zero":false},"axis":{"values":[-10,0,10,20],"format":"d","title":"North America","titleFontWeight":"bold","titleFontSize":18.5,"titlePadding":36}}}},
 {"data":{"name":"pts"},"transform":[{"filter":"datum.p==='RA3'"}],"mark":{"type":"point","opacity":0},
  "encoding":{"x":{"field":"x","type":"quantitative","scale":{"domain":[0.75,1.05],"nice":false,"zero":false},"axis":{"orient":"top","values":[0.8,0.9,1.0],"labels":false,"title":null}},
   "y":{"field":"y","type":"quantitative","scale":{"domain":[-15,25],"nice":false,"zero":false},"axis":{"orient":"right","values":[-10,0,10,20],"labels":false,"title":null}}}},
 {"data":{"name":"lab"},"transform":[{"filter":"datum.p==='RA3'"}],"mark":{"type":"text","align":"right","baseline":"middle","fontSize":17,"fontWeight":"bold","color":"#111"},
  "encoding":{"x":{"datum":1.027,"type":"quantitative","scale":{"domain":[0.75,1.05],"nice":false,"zero":false},"axis":null},"y":{"datum":19,"type":"quantitative","scale":{"domain":[-15,25],"nice":false,"zero":false},"axis":null},"text":{"field":"r"}}}
 ],"resolve":{"axis":{"x":"independent","y":"independent"}}},
{"width":158,"height":160,"layer":[
 {"data":{"name":"pts"},"transform":[{"filter":"datum.p==='RM3'"}],"mark":{"type":"point","filled":true,"size":80,"color":"#e42100","stroke":"#3a3a3a","strokeWidth":0.6,"opacity":1},
  "encoding":{"x":{"field":"x","type":"quantitative","scale":{"domain":[0.75,1.04],"nice":false,"zero":false},"axis":{"values":[0.8,0.9,1.0],"format":".1f","title":"SCE−SCNZ"}},
   "y":{"field":"y","type":"quantitative","scale":{"domain":[-15,25],"nice":false,"zero":false},"axis":{"values":[-10,0,10,20],"format":"d","title":null}}}},
 {"data":{"name":"pts"},"transform":[{"filter":"datum.p==='RM3'"}],"mark":{"type":"point","opacity":0},
  "encoding":{"x":{"field":"x","type":"quantitative","scale":{"domain":[0.75,1.04],"nice":false,"zero":false},"axis":{"orient":"top","values":[0.8,0.9,1.0],"labels":false,"title":null}},
   "y":{"field":"y","type":"quantitative","scale":{"domain":[-15,25],"nice":false,"zero":false},"axis":{"orient":"right","values":[-10,0,10,20],"labels":false,"title":null}}}},
 {"data":{"name":"lab"},"transform":[{"filter":"datum.p==='RM3'"}],"mark":{"type":"text","align":"right","baseline":"middle","fontSize":17,"fontWeight":"bold","color":"#111"},
  "encoding":{"x":{"datum":1.014,"type":"quantitative","scale":{"domain":[0.75,1.04],"nice":false,"zero":false},"axis":null},"y":{"datum":19,"type":"quantitative","scale":{"domain":[-15,25],"nice":false,"zero":false},"axis":null},"text":{"field":"r"}}}
 ],"resolve":{"axis":{"x":"independent","y":"independent"}}},
{"width":158,"height":160,"layer":[
 {"data":{"name":"pts"},"transform":[{"filter":"datum.p==='RJ3'"}],"mark":{"type":"point","filled":true,"size":80,"color":"#0b2af2","stroke":"#3a3a3a","strokeWidth":0.6,"opacity":1},
  "encoding":{"x":{"field":"x","type":"quantitative","scale":{"domain":[0.75,1.05],"nice":false,"zero":false},"axis":{"values":[0.8,0.9,1.0],"format":".1f","title":"SCE−SCNZ"}},
   "y":{"field":"y","type":"quantitative","scale":{"domain":[-25,43],"nice":false,"zero":false},"axis":{"values":[-20,-10,0,10,20,30,40],"format":"d","title":null}}}},
 {"data":{"name":"pts"},"transform":[{"filter":"datum.p==='RJ3'"}],"mark":{"type":"point","opacity":0},
  "encoding":{"x":{"field":"x","type":"quantitative","scale":{"domain":[0.75,1.05],"nice":false,"zero":false},"axis":{"orient":"top","values":[0.8,0.9,1.0],"labels":false,"title":null}},
   "y":{"field":"y","type":"quantitative","scale":{"domain":[-25,43],"nice":false,"zero":false},"axis":{"orient":"right","values":[-20,-10,0,10,20,30,40],"labels":false,"title":"Eurasia","titleFontWeight":"bold","titleFontSize":17,"titleAngle":270,"titleBaseline":"top","titlePadding":41}}}},
 {"data":{"name":"lab"},"transform":[{"filter":"datum.p==='RJ3'"}],"mark":{"type":"text","align":"right","baseline":"middle","fontSize":17,"fontWeight":"bold","color":"#111"},
  "encoding":{"x":{"datum":1.023,"type":"quantitative","scale":{"domain":[0.75,1.05],"nice":false,"zero":false},"axis":null},"y":{"datum":33.2,"type":"quantitative","scale":{"domain":[-25,43],"nice":false,"zero":false},"axis":null},"text":{"field":"r"}}}
 ],"resolve":{"axis":{"x":"independent","y":"independent"}}}
]
}
